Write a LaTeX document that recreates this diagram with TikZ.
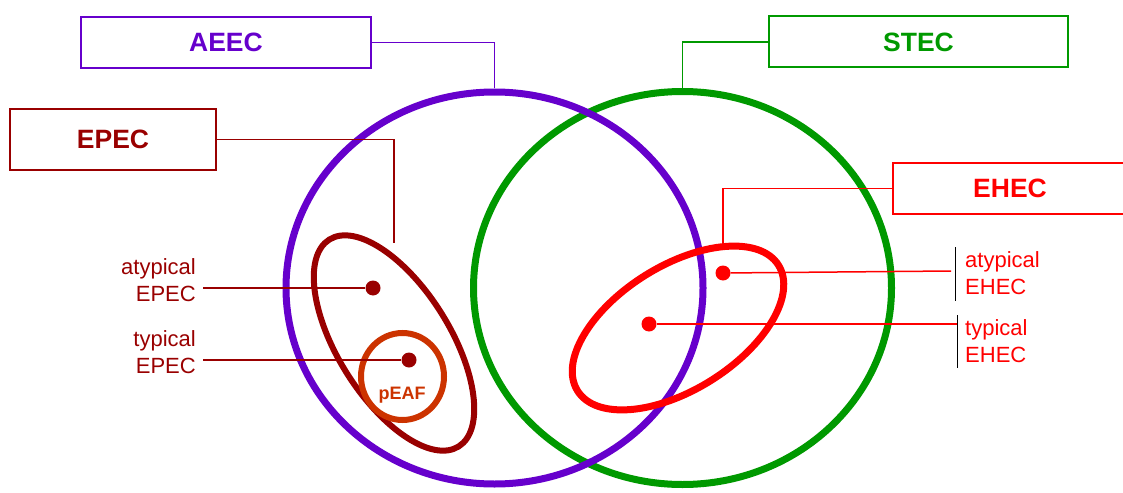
\documentclass[tikz,border=0pt]{standalone}
\usepackage{fontspec}
\setmainfont{Liberation Sans}
\usetikzlibrary{positioning,shapes.geometric}
\definecolor{aeec}{HTML}{6600CC}
\definecolor{stec}{HTML}{009900}
\definecolor{epec}{HTML}{990000}
\definecolor{ehec}{HTML}{FF0000}
\definecolor{peaf}{HTML}{CC3300}
\tikzset{%
  group box/.style={
    draw=#1,
    line width=2pt,
    text=#1,
    minimum height=51pt,
    font=\fontsize{26.5}{30}\selectfont\bfseries
  },
  group ring/.style={
    draw=#1,
    ellipse,
    inner sep=0pt,
    line width=7pt
  },
  lead/.style={draw=#1, line width=1.5pt},
  strain dot/.style={
    circle,
    fill=#1,
    inner sep=0pt,
    minimum size=15pt
  },
  strain label/.style={
    text=#1,
    inner sep=0pt,
    font=\fontsize{22}{26.5}\selectfont
  },
}

\begin{document}
\begin{tikzpicture}[x=1pt, y=-1pt]

\useasboundingbox (0,0) rectangle (1123,492);

% the two big groups
\node [group ring=stec, minimum width=418pt, minimum height=393pt] (stec ring) at (682.5,288) {};
\node [group ring=aeec, minimum width=417pt, minimum height=392pt] (aeec ring) at (494.5,288) {};

% pathotypes inside them
\node [group ring=epec, line width=6pt, rotate=-58, minimum width=244pt, minimum height=112pt] (epec ring) at (394,343) {};
\node [group ring=peaf, line width=6pt, minimum width=83pt, minimum height=87pt] (peaf ring) at (402.5,376.5) {};
\node [text=peaf, font=\fontsize{18}{20}\selectfont\bfseries] (peaf) at (402,395) {pEAF};
\node [group ring=ehec, rotate=32, minimum width=237pt, minimum height=124pt] (ehec ring) at (678,328) {};

% name boxes
\node [group box=aeec, minimum width=290pt] (aeec) at (226,42.5) {AEEC};
\node [group box=stec, minimum width=299pt] (stec) at (918.5,42) {STEC};
\node [group box=epec, minimum width=206pt, minimum height=61pt] (epec) at (113,139.5) {EPEC};
\node [group box=ehec, minimum width=234pt] (ehec) at (1010,188.5) {EHEC};

\coordinate (epec tip) at (394,243);
\coordinate (ehec tip) at (723,244);

\draw [lead=aeec] (aeec.east) -| (aeec ring.north);
\draw [lead=stec] (stec.west) -| (stec ring.north);
\draw [lead=epec] (epec.east) -| (epec tip);
\draw [lead=ehec] (ehec.west) -| (ehec tip);

% EPEC strains, labels on the left
\foreach \m/\dx/\dy/\ly [count=\i] in {atypical/373/288/280, typical/409/360/352} {
  \node [strain dot=epec] (epec dot-\i) at (\dx,\dy) {};
  \coordinate (epec lead-\i) at (203,\dy);
  \draw [lead=epec] (epec lead-\i) -- (epec dot-\i);
  \node [strain label=epec, align=right, anchor=east] (epec label-\i) at (196,\ly) {\m\\EPEC};
}

% EHEC strains, labels on the right
\foreach \m/\dx/\dy/\ex/\ey/\ly [count=\i] in {atypical/723/273/951/271/273, typical/649/324/957/324/341} {
  \node [strain dot=ehec] (ehec dot-\i) at (\dx,\dy) {};
  \coordinate (ehec lead-\i) at (\ex,\ey);
  \draw [lead=ehec] (ehec dot-\i) -- (ehec lead-\i);
  \node [strain label=ehec, align=left, anchor=west] (ehec label-\i) at (965,\ly) {\m\\EHEC};
}

\draw [line width=1pt] (955,247) -- (955,301);
\draw [line width=1pt] (957,315) -- (957,368);

\end{tikzpicture}
\end{document}
